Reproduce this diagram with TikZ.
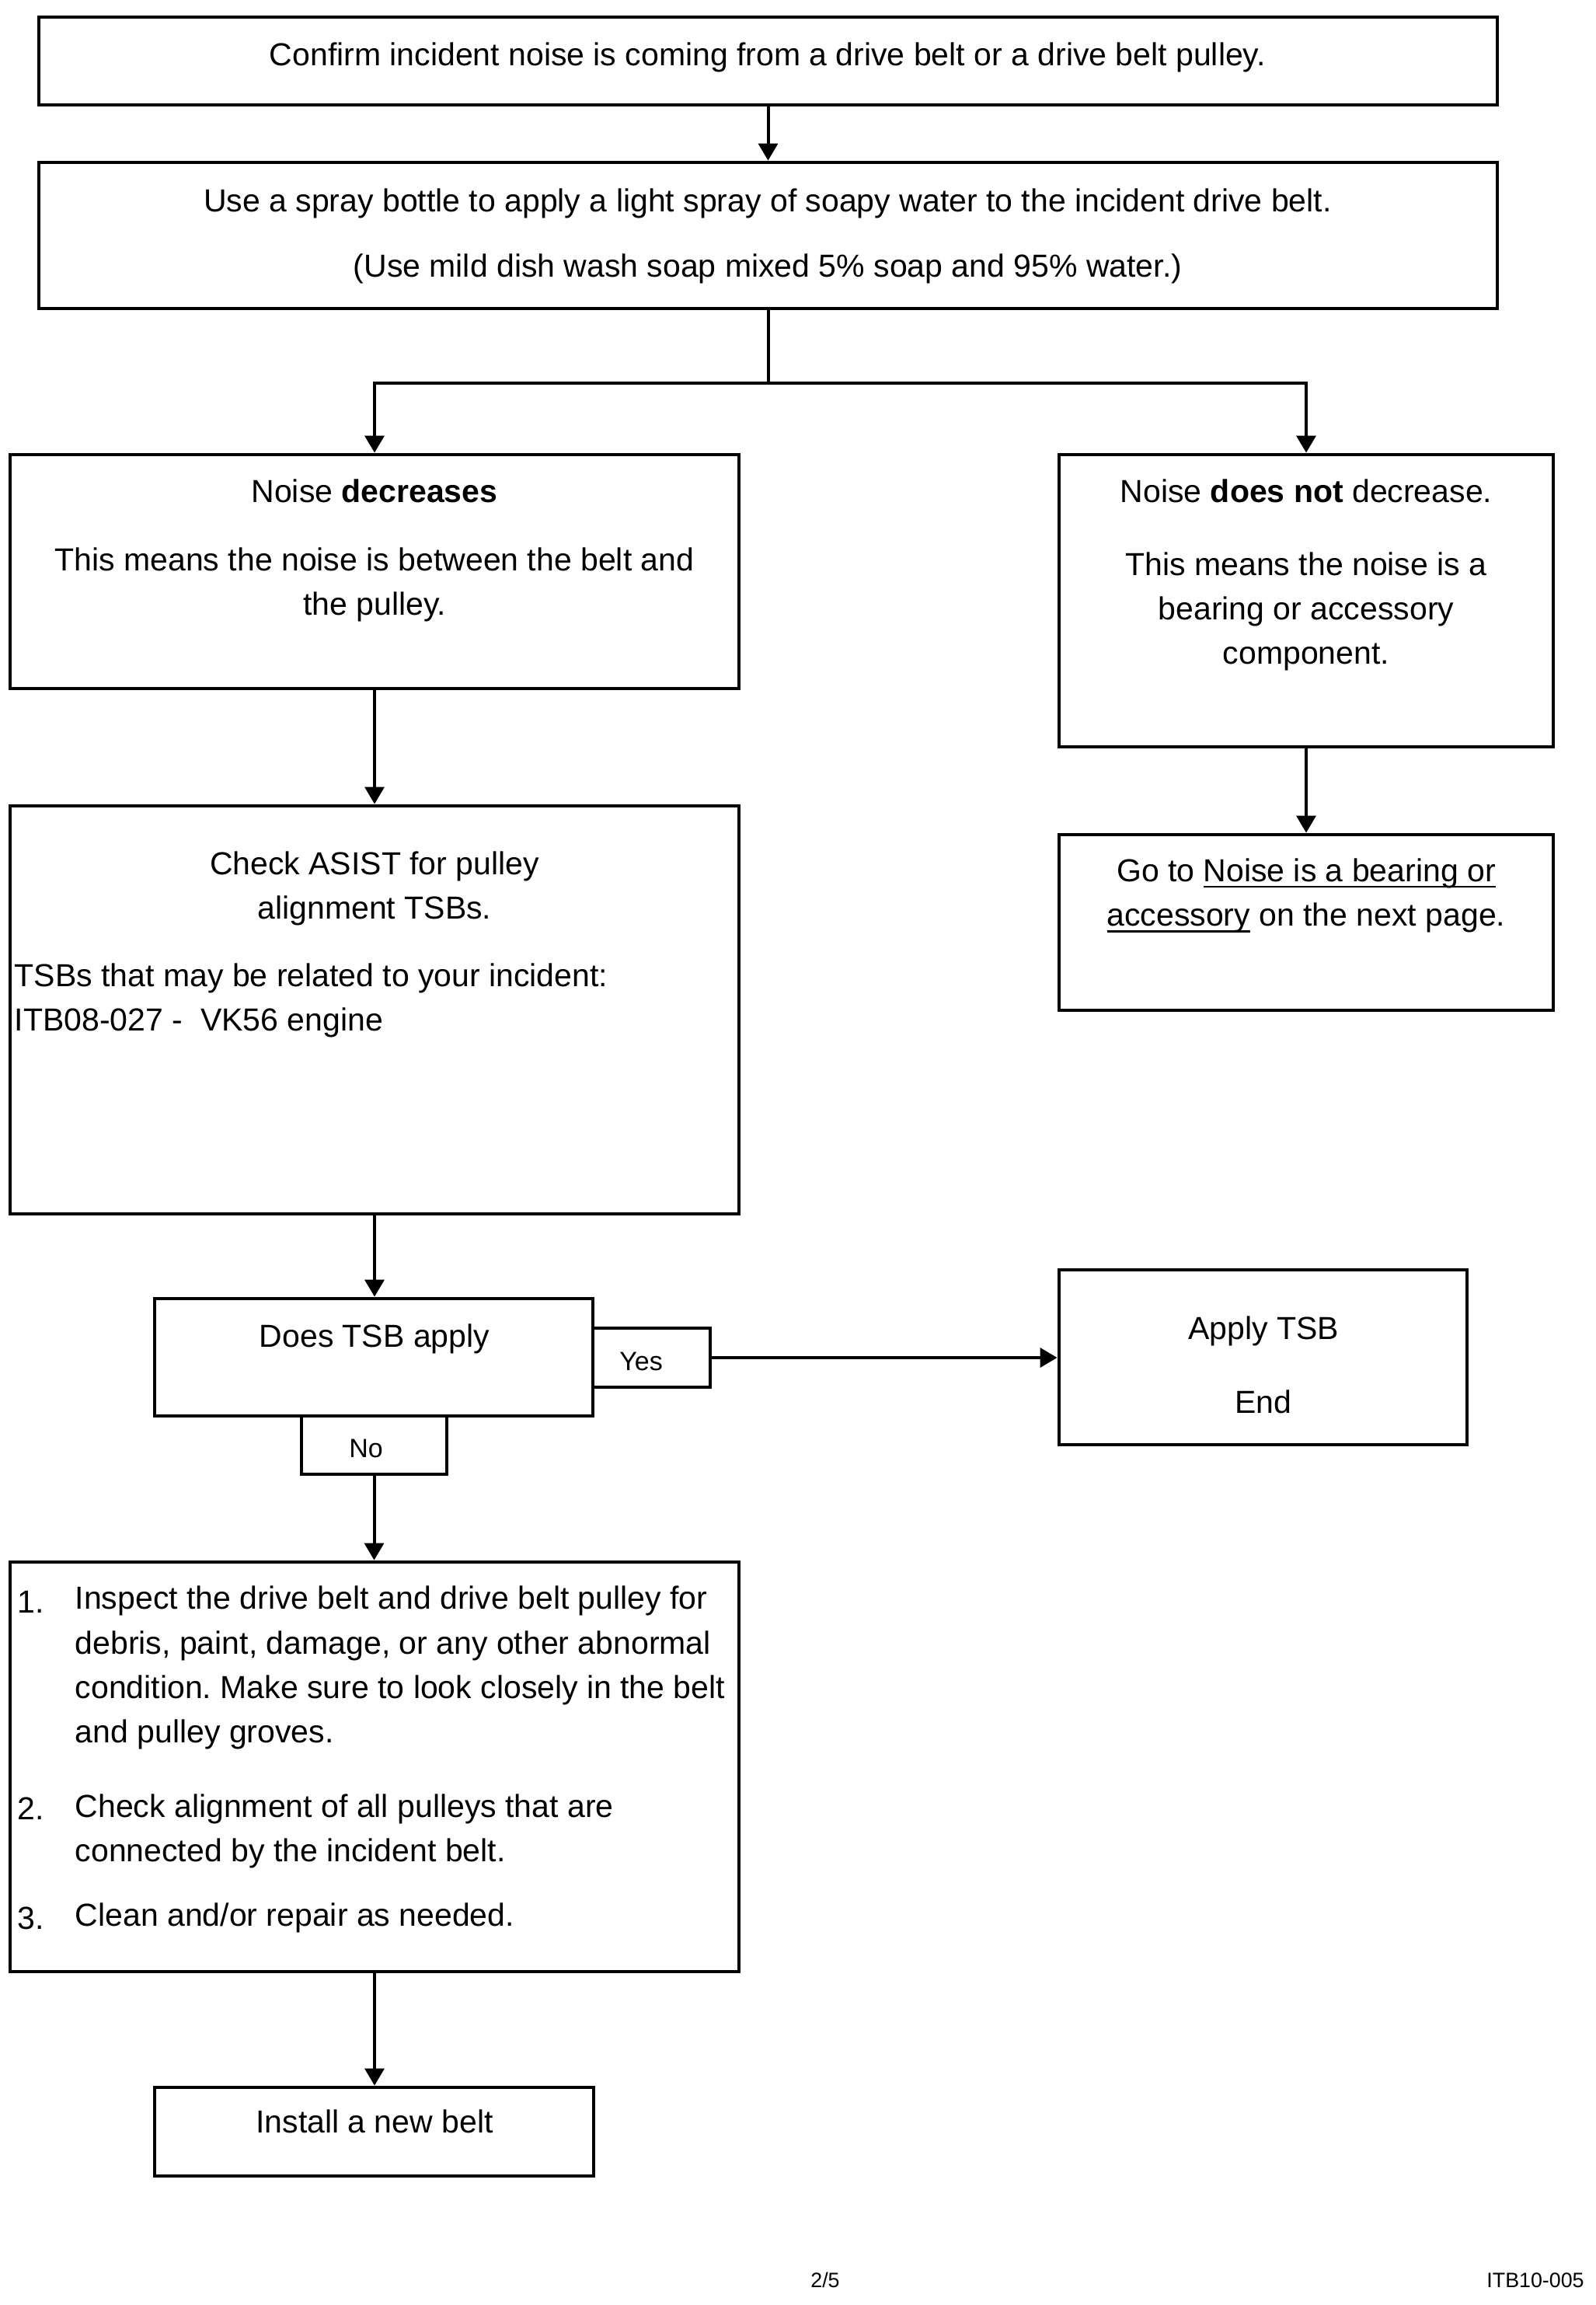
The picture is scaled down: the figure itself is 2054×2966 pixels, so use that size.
\documentclass[tikz,border=0pt]{standalone}
\usepackage{fontspec}
\setmainfont{Liberation Sans}
\usetikzlibrary{arrows.meta,fit}
\frenchspacing
\newcommand\myul[1]{\setbox0\hbox{#1}\rlap{\rule[-2.1pt]{\wd0}{0.7pt}}\box0\relax}
\begin{document}
\begin{tikzpicture}[x=0.25pt,y=-0.25pt,
  box/.style={draw, line width=1.2pt, inner sep=0pt},
  txt/.style={inner sep=0pt, font=\fontsize{10.25}{14.3}\selectfont, align=center},
  ltxt/.style={inner sep=0pt, font=\fontsize{10.25}{14.3}\selectfont, align=left, anchor=west},
  small/.style={inner sep=0pt, font=\fontsize{8.5}{10}\selectfont},
  foot/.style={inner sep=0pt, font=\fontsize{6.7}{8}\selectfont},
  arr/.style={line width=1pt, -{Triangle[length=5.5pt,width=6.2pt]}},
  conn/.style={line width=1pt}]
\fill[white] (0,0) rectangle (2054,2966);
\useasboundingbox (0,0) rectangle (2054,2966);

% boxes
\node[box, fit={(50,22) (1927,135)}] (b1) {};
\node[box, fit={(50,209) (1927,397)}] (b2) {};
\node[box, fit={(13,585) (951,886)}] (b3) {};
\node[box, fit={(1363,585) (1999,961)}] (b5) {};
\node[box, fit={(13,1037) (951,1562)}] (b4) {};
\node[box, fit={(1363,1074) (1999,1300)}] (b6) {};
\node[box, fit={(199,1671) (763,1822)}] (b7) {};
\node[box, fit={(763,1709) (914,1785)}] (yes) {};
\node[box, fit={(388,1822) (575,1897)}] (no) {};
\node[box, fit={(1363,1634) (1888,1859)}] (apply) {};
\node[box, fit={(13,2010) (951,2537)}] (list) {};
\node[box, fit={(199,2686) (764,2800)}] (inst) {};

% texts
\node[txt] (t1) at (988,74) {Confirm incident noise is coming from a drive belt or a drive belt pulley.};
\node[txt] (t2a) at (988,262) {Use a spray bottle to apply a light spray of soapy water to the incident drive belt.};
\node[txt] (t2b) at (988,346) {(Use mild dish wash soap mixed 5\% soap and 95\% water.)};

\node[txt] (t3a) at (482,632) {Noise \textbf{decreases}};
\node[txt] (t3b) at (482,752) {This means the noise is between the belt and\\the pulley.};

\node[txt] (t5a) at (1681,632) {Noise \textbf{does not} decrease.};
\node[txt] (t5b) at (1681,787) {This means the noise is a\\bearing or accessory\\component.};

\node[txt] (t6) at (1681,1152) {Go to \myul{Noise is a bearing or}\\\myul{accessory} on the next page.};

\node[txt] (t4a) at (482,1143) {Check ASIST for pulley\\alignment TSBs.};
\node[ltxt] (t4b) at (18,1287) {TSBs that may be related to your incident:\\ITB08-027 -\ \ VK56 engine};

\node[txt] (t7) at (482,1723) {Does TSB apply};
\node[small] (tyes) at (825,1752) {Yes};
\node[small] (tno) at (471,1864) {No};

\node[txt] (tap1) at (1626,1713) {Apply TSB};
\node[txt] (tap2) at (1626,1804) {End};

\node[ltxt] (n1) at (22,2061) {1.};
\node[ltxt] (l1) at (96,2146) {Inspect the drive belt and drive belt pulley for\\debris, paint, damage, or any other abnormal\\condition. Make sure to look closely in the belt\\and pulley groves.};
\node[ltxt] (n2) at (22,2327) {2.};
\node[ltxt] (l2) at (96,2356) {Check alignment of all pulleys that are\\connected by the incident belt.};
\node[ltxt] (n3) at (22,2468) {3.};
\node[ltxt] (l3) at (96,2468) {Clean and/or repair as needed.};

\node[txt] (t9) at (482,2730) {Install a new belt};

\node[foot] (pg) at (1062,2934) {2/5};
\node[foot] (doc) at (1976,2934) {ITB10-005};

% connectors
\draw[arr] (b1.south) -- (b2.north);
\draw[arr] (b2.south) -- ++(0,94) -| (b3.north);
\draw[arr] (b2.south) -- ++(0,94) -| (b5.north);
\draw[arr] (b3.south) -- (b4.north);
\draw[arr] (b5.south) -- (b6.north);
\draw[arr] (b4.south) -- (b4.south |- b7.north);
\draw[arr] (yes.east) -- (yes.east -| apply.west);
\draw[arr] (no.south) -- (no.south |- list.north);
\draw[arr] (list.south) -- (list.south |- inst.north);
\end{tikzpicture}
\end{document}
